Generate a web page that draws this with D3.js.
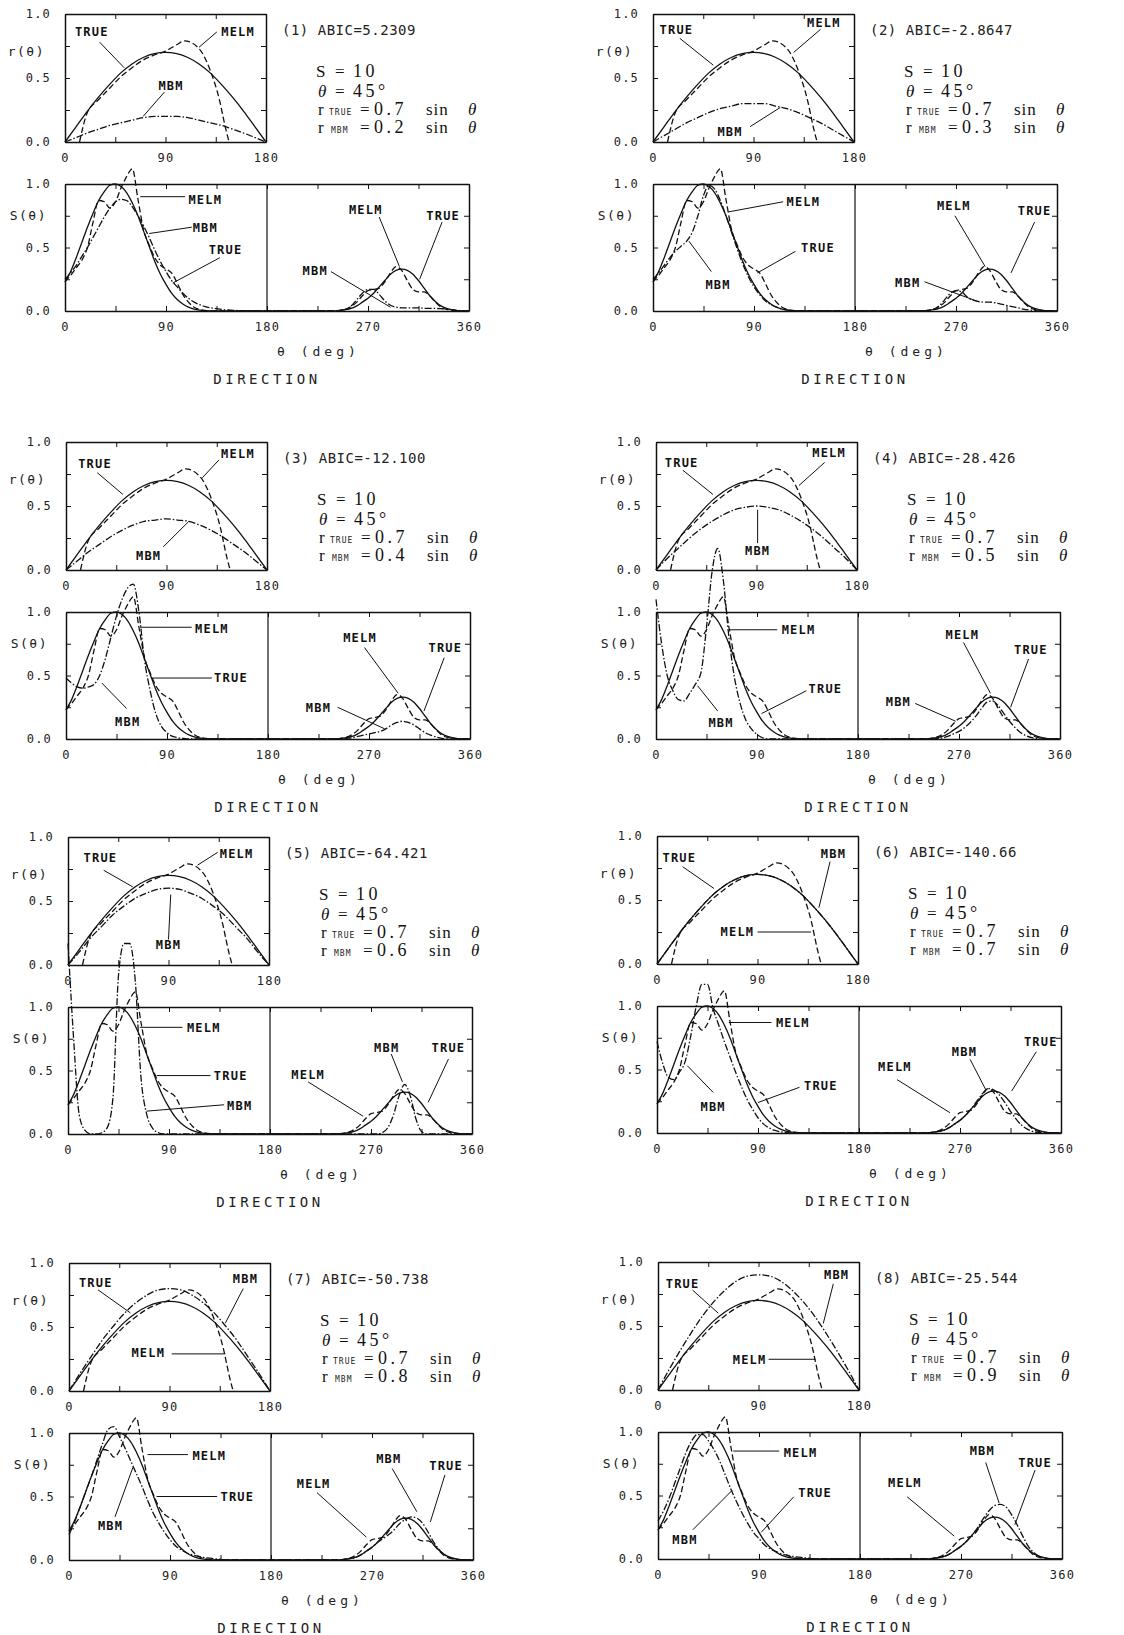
<!DOCTYPE html>
<html>
<head>
<meta charset="utf-8">
<script src="https://cdn.jsdelivr.net/npm/d3@7"></script>
<style>
  body { margin: 0; background: #fff; }
  svg { display: block; }
  .tk text { font-family: "DejaVu Sans Mono", monospace; font-size: 12px; fill: #222; letter-spacing: 1.2px; }
  .tk .domain { stroke: #111; stroke-width: 1.5; }
  .tk line { stroke: #111; stroke-width: 1; }
  .ylab { font-family: "DejaVu Sans Mono", monospace; font-size: 13px; fill: #222; letter-spacing: 1.5px; }
  .xlab { font-family: "DejaVu Sans Mono", monospace; font-size: 13px; fill: #222; letter-spacing: 4px; }
  .dir { font-family: "DejaVu Sans Mono", monospace; font-size: 14px; fill: #222; letter-spacing: 3.5px; }
  .abic { font-family: "DejaVu Sans Mono", monospace; font-size: 14px; fill: #222; letter-spacing: 0.5px; }
  .par { font-family: "Liberation Serif", serif; font-size: 17px; fill: #111; }
  .num { font-family: "Liberation Serif", serif; font-size: 18px; fill: #111; letter-spacing: 3.5px; }
  .fn { font-family: "Liberation Serif", serif; font-size: 17px; fill: #111; letter-spacing: 1px; }
  .sub { font-family: "DejaVu Sans Mono", monospace; font-size: 8px; fill: #222; letter-spacing: 1px; }
  .ann { font-family: "DejaVu Sans Mono", monospace; font-size: 12px; font-weight: bold; fill: #111; letter-spacing: 1.2px; }
</style>
</head>
<body>
<svg id="chart" width="1124" height="1635"></svg>
<script>
// Direction spectra: r(theta) and S(theta) for TRUE / MELM / MBM, eight cases

// theta grids (deg)
const thetaR = [0,10,20,30,40,50,60,70,80,90,100,110,120,130,140,150,160,170,180];
const thetaS = [0,5,10,15,20,25,30,35,40,45,50,55,60,65,70,75,80,85,90,95,100,105,110,115,120,125,130,
  135,140,145,150,155,160,165,170,175,180,185,190,195,200,205,210,215,220,225,230,235,240,
  245,250,255,260,265,270,275,280,285,290,295,300,305,310,315,320,325,330,335,340,345,350,355,360];

// r(theta)
const trueR = [0,0.12,0.24,0.35,0.45,0.54,0.61,0.66,0.69,0.70,0.69,0.66,0.61,0.54,0.45,0.35,0.24,0.12,0];
const melmThetaR = [13,20,30,40,50,60,70,80,90,100,107,120,130,138,144,147];
const melmR = [0,0.23,0.33,0.42,0.51,0.58,0.64,0.68,0.71,0.76,0.79,0.73,0.56,0.34,0.10,0];
const mbmR1 = [0,0.035,0.07,0.10,0.13,0.15,0.17,0.19,0.20,0.20,0.20,0.19,0.17,0.15,0.13,0.10,0.07,0.035,0];
const mbmR2 = [0,0.05,0.10,0.15,0.19,0.23,0.26,0.28,0.30,0.30,0.30,0.28,0.26,0.23,0.19,0.15,0.10,0.05,0];
const mbmR3 = [0,0.07,0.14,0.20,0.26,0.31,0.35,0.38,0.39,0.40,0.39,0.38,0.35,0.31,0.26,0.20,0.14,0.07,0];
const mbmR4 = [0,0.09,0.17,0.25,0.32,0.38,0.43,0.47,0.49,0.50,0.49,0.47,0.43,0.38,0.32,0.25,0.17,0.09,0];
const mbmR5 = [0,0.10,0.21,0.30,0.39,0.46,0.52,0.56,0.59,0.60,0.59,0.56,0.52,0.46,0.39,0.30,0.21,0.10,0];
const mbmR6 = [0,0.12,0.24,0.35,0.45,0.54,0.61,0.66,0.69,0.70,0.69,0.66,0.61,0.54,0.45,0.35,0.24,0.12,0];
const mbmR7 = [0,0.14,0.27,0.40,0.51,0.61,0.69,0.75,0.79,0.80,0.79,0.75,0.69,0.61,0.51,0.40,0.27,0.14,0];
const mbmR8 = [0,0.16,0.31,0.45,0.58,0.69,0.78,0.85,0.89,0.90,0.89,0.85,0.78,0.69,0.58,0.45,0.31,0.16,0];

// S(theta)
const trueS = [0.23,0.31,0.42,0.54,0.66,0.77,0.87,0.94,0.99,1.00,0.98,0.93,0.85,0.75,0.63,0.51,0.39,0.29,0.21,0.14,0.09,0.055,0.03,0.015,0.007,0.003,0,
  0,0,0,0,0,0,0,0,0,0, 0,0,0,0,0,0,0,0,0,0, 0,0,
  0.005,0.01,0.02,0.04,0.07,0.10,0.14,0.19,0.24,0.29,0.32,0.33,0.32,0.29,0.24,0.18,0.12,0.075,0.04,0.02,0.008,0.003,0,0];
const melmS = [0.23,0.28,0.34,0.40,0.50,0.70,0.87,0.86,0.81,0.86,0.97,1.06,1.12,0.88,0.64,0.52,0.42,0.36,0.33,0.30,0.22,0.13,0.07,0.03,0.012,0.004,0,
  0,0,0,0,0,0,0,0,0,0, 0,0,0,0,0,0,0,0,0,0, 0,0,
  0.005,0.015,0.035,0.07,0.12,0.16,0.17,0.18,0.23,0.30,0.35,0.32,0.24,0.17,0.15,0.15,0.12,0.07,0.03,0.012,0.004,0,0,0];
const mbmS1 = [0.25,0.30,0.36,0.43,0.50,0.58,0.66,0.74,0.81,0.86,0.88,0.87,0.82,0.75,0.67,0.58,0.48,0.39,0.31,0.24,0.19,0.14,0.10,0.07,0.05,0.035,0.025,
  0.018,0.012,0.008,0.005,0.003,0.002,0,0,0,0, 0,0,0,0,0,0,0,0,0,0, 0,0,
  0.005,0.012,0.04,0.09,0.14,0.17,0.17,0.13,0.08,0.045,0.03,0.025,0.025,0.025,0.025,0.022,0.02,0.02,0.018,0.015,0.01,0.005,0,0];
const mbmS2 = [0.25,0.30,0.36,0.42,0.47,0.51,0.55,0.62,0.75,0.91,0.99,0.96,0.87,0.75,0.62,0.49,0.37,0.27,0.19,0.13,0.08,0.05,0.03,0.015,0.007,0.003,0,
  0,0,0,0,0,0,0,0,0,0, 0,0,0,0,0,0,0,0,0,0, 0,0,
  0.005,0.012,0.04,0.09,0.14,0.16,0.15,0.11,0.085,0.075,0.07,0.07,0.065,0.055,0.045,0.035,0.025,0.015,0.008,0.003,0,0,0,0];
const mbmS3 = [0.48,0.44,0.41,0.40,0.41,0.43,0.50,0.63,0.80,0.97,1.10,1.19,1.22,1.00,0.62,0.38,0.20,0.10,0.05,0.02,0.01,0.004,0,0,0,0,0,
  0,0,0,0,0,0,0,0,0,0, 0,0,0,0,0,0,0,0,0,0, 0,0,
  0,0.005,0.01,0.02,0.03,0.04,0.05,0.06,0.08,0.11,0.13,0.14,0.13,0.11,0.08,0.05,0.03,0.015,0.005,0,0,0,0,0];
const mbmS4 = [1.10,0.75,0.50,0.38,0.31,0.30,0.36,0.43,0.52,0.88,1.32,1.50,1.25,0.80,0.48,0.28,0.15,0.08,0.035,0.01,0,0,0,0,0,0,0,
  0,0,0,0,0,0,0,0,0,0, 0,0,0,0,0,0,0,0,0,0, 0,0,
  0,0.003,0.008,0.02,0.04,0.06,0.09,0.13,0.18,0.24,0.29,0.30,0.26,0.20,0.14,0.09,0.05,0.025,0.01,0.003,0,0,0,0];
const mbmS5 = [1.50,0.75,0.15,0.03,0,0,0.01,0.05,0.28,1.25,1.50,1.50,1.20,0.45,0.16,0.05,0.012,0,0,0,0,0,0,0,0,0,0,
  0,0,0,0,0,0,0,0,0,0, 0,0,0,0,0,0,0,0,0,0, 0,0,
  0,0,0,0,0,0,0,0.01,0.05,0.15,0.30,0.39,0.30,0.12,0.02,0,0,0,0,0,0,0,0,0];
const mbmS6 = [0.72,0.55,0.44,0.42,0.48,0.56,0.76,1.00,1.17,1.17,0.98,0.85,0.72,0.60,0.48,0.37,0.27,0.19,0.12,0.07,0.04,0.02,0.01,0.004,0,0,0,
  0,0,0,0,0,0,0,0,0,0, 0,0,0,0,0,0,0,0,0,0, 0,0,
  0.005,0.01,0.02,0.04,0.07,0.10,0.14,0.19,0.25,0.31,0.35,0.34,0.30,0.24,0.17,0.11,0.06,0.03,0.012,0.004,0,0,0,0];
const mbmS7 = [0.20,0.30,0.42,0.54,0.66,0.79,0.92,1.03,1.05,0.97,0.88,0.78,0.68,0.58,0.47,0.37,0.29,0.22,0.16,0.11,0.08,0.055,0.04,0.03,0.02,0.015,0.01,
  0.005,0,0,0,0,0,0,0,0,0, 0,0,0,0,0,0,0,0,0,0, 0,0,
  0.005,0.01,0.02,0.04,0.07,0.10,0.14,0.17,0.20,0.24,0.29,0.32,0.34,0.33,0.29,0.22,0.14,0.08,0.04,0.015,0.005,0,0,0];
const mbmS8 = [0.30,0.38,0.48,0.60,0.72,0.84,0.93,0.98,0.98,0.93,0.86,0.77,0.66,0.55,0.45,0.36,0.28,0.21,0.16,0.11,0.08,0.06,0.04,0.03,0.02,0.015,0.01,
  0.005,0,0,0,0,0,0,0,0,0, 0,0,0,0,0,0,0,0,0,0, 0,0,
  0.005,0.01,0.02,0.04,0.07,0.10,0.14,0.19,0.25,0.32,0.38,0.42,0.43,0.41,0.35,0.27,0.18,0.10,0.05,0.02,0.005,0,0,0];

const abicText = ["5.2309", "-2.8647", "-12.100", "-28.426", "-64.421", "-140.66", "-50.738", "-25.544"];
const mbmCoef = ["0.2", "0.3", "0.4", "0.5", "0.6", "0.7", "0.8", "0.9"];

// labels: [plot, text, label theta, label value, line from theta, value, line to theta, value]
const annot1 = [["r","TRUE",24,0.86,31,0.78,53,0.58],["r","MELM",155,0.86,136,0.86,120,0.74],["r","MBM",95,0.44,89,0.39,70,0.2],
  ["S","MELM",125,0.88,107,0.9,67,0.9],["S","MBM",125,0.66,113,0.66,75,0.61],["S","TRUE",143,0.48,138,0.42,96,0.22],
  ["S","MELM",268,0.8,280,0.74,298,0.35],["S","TRUE",337,0.75,336,0.7,316,0.25],["S","MBM",223,0.32,237,0.31,290,0.03]];
const annot2 = [["r","TRUE",21,0.88,24,0.81,54,0.6],["r","MELM",153,0.93,150,0.88,126,0.7],["r","MBM",69,0.08,87,0.12,114,0.27],
  ["S","MELM",134,0.86,116,0.86,67,0.78],["S","TRUE",147,0.5,127,0.47,93,0.3],["S","MBM",58,0.21,52,0.31,32,0.55],
  ["S","MELM",268,0.83,269,0.75,296,0.35],["S","TRUE",340,0.79,340,0.7,319,0.3],["S","MBM",227,0.22,242,0.23,291,0.07]];
const annot3 = [["r","TRUE",26,0.83,28,0.76,51,0.59],["r","MELM",154,0.91,137,0.86,122,0.72],["r","MBM",74,0.11,87,0.18,110,0.38],
  ["S","MELM",130,0.87,112,0.88,66,0.88],["S","TRUE",147,0.48,130,0.48,77,0.48],["S","MBM",55,0.14,54,0.24,32,0.44],
  ["S","MELM",262,0.8,266,0.72,296,0.36],["S","TRUE",338,0.72,337,0.64,319,0.22],["S","MBM",225,0.25,242,0.25,284,0.08]];
const annot4 = [["r","TRUE",23,0.84,24,0.78,51,0.59],["r","MELM",155,0.92,151,0.84,128,0.66],["r","MBM",91,0.15,91,0.21,91,0.47],
  ["S","MELM",127,0.86,108,0.86,65,0.86],["S","TRUE",151,0.4,134,0.38,94,0.2],["S","MBM",58,0.13,55,0.22,37,0.42],
  ["S","MELM",273,0.82,274,0.76,298,0.36],["S","TRUE",334,0.7,332,0.63,316,0.25],["S","MBM",216,0.29,231,0.28,267,0.14]];
const annot5 = [["r","TRUE",29,0.84,32,0.74,58,0.61],["r","MELM",151,0.87,134,0.88,116,0.78],["r","MBM",90,0.16,90,0.2,92,0.55],
  ["S","MELM",121,0.84,102,0.84,64,0.84],["S","TRUE",145,0.46,127,0.46,79,0.46],["S","MBM",153,0.22,139,0.23,70,0.18],
  ["S","MELM",214,0.47,214,0.41,263,0.14],["S","MBM",284,0.68,288,0.63,298,0.41],["S","TRUE",339,0.68,339,0.59,321,0.25]];
const annot6 = [["r","TRUE",20,0.83,23,0.76,51,0.59],["r","MBM",158,0.86,155,0.8,145,0.44],["r","MELM",72,0.25,90,0.25,138,0.25],
  ["S","MELM",121,0.87,102,0.87,64,0.87],["S","TRUE",146,0.37,127,0.36,90,0.24],["S","MBM",50,0.21,50,0.32,27,0.53],
  ["S","MELM",212,0.52,214,0.42,261,0.16],["S","MBM",274,0.64,279,0.58,293,0.34],["S","TRUE",342,0.72,338,0.64,316,0.33]];
const annot7 = [["r","TRUE",24,0.85,26,0.79,55,0.61],["r","MBM",158,0.88,156,0.8,140,0.53],["r","MELM",71,0.3,92,0.29,140,0.29],
  ["S","MELM",125,0.82,106,0.83,70,0.83],["S","TRUE",150,0.5,132,0.5,78,0.5],["S","MBM",37,0.27,41,0.34,57,0.73],
  ["S","MELM",218,0.6,221,0.53,265,0.18],["S","MBM",285,0.8,288,0.72,310,0.38],["S","TRUE",336,0.74,335,0.67,322,0.3]];
const annot8 = [["r","TRUE",22,0.83,31,0.78,54,0.6],["r","MBM",160,0.9,157,0.83,148,0.52],["r","MELM",82,0.24,99,0.24,141,0.24],
  ["S","MELM",127,0.84,108,0.85,67,0.85],["S","TRUE",140,0.52,121,0.49,92,0.21],["S","MBM",24,0.15,31,0.23,66,0.54],
  ["S","MELM",220,0.6,222,0.49,264,0.18],["S","MBM",289,0.85,292,0.76,304,0.44],["S","TRUE",336,0.76,336,0.7,318,0.27]];

const mbmRList = [mbmR1, mbmR2, mbmR3, mbmR4, mbmR5, mbmR6, mbmR7, mbmR8];
const mbmSList = [mbmS1, mbmS2, mbmS3, mbmS4, mbmS5, mbmS6, mbmS7, mbmS8];
const annotList = [annot1, annot2, annot3, annot4, annot5, annot6, annot7, annot8];

// layout (top-left of each r(theta) box)
const panelOrigin = [[65, 14], [653, 14], [66, 442], [656, 442], [68, 837], [657, 836], [69, 1263], [658, 1262]];
const wR = 201, hR = 128, wS = 404, hS = 127, gapS = 170;

const dashes = { TRUE: null, MELM: "6,3", MBM: "7,2,1.5,2" };

const svg = d3.select("#chart");

function frame(g, x, y, xTicks) {
    const [x0, x1] = x.range();
    const [yb, yt] = y.range();
    const yTicks = [0, 0.25, 0.5, 0.75, 1];

    g.append("g").attr("class", "tk").attr("transform", `translate(0,${yb})`)
        .call(d3.axisBottom(x).tickValues(xTicks).tickSizeInner(-5).tickSizeOuter(0).tickPadding(11)
            .tickFormat(d => d % 90 === 0 ? d : ""));
    g.append("g").attr("class", "tk").attr("transform", `translate(0,${yt})`)
        .call(d3.axisTop(x).tickValues(xTicks).tickSizeInner(-5).tickSizeOuter(0).tickFormat(""));
    g.append("g").attr("class", "tk").attr("transform", `translate(${x0},0)`)
        .call(d3.axisLeft(y).tickValues(yTicks).tickSizeInner(-5).tickSizeOuter(0).tickPadding(14)
            .tickFormat(d => (d === 0.25 || d === 0.75) ? "" : d3.format(".1f")(d)));
    g.append("g").attr("class", "tk").attr("transform", `translate(${x1},0)`)
        .call(d3.axisRight(y).tickValues(yTicks).tickSizeInner(-5).tickSizeOuter(0).tickFormat(""));
    g.selectAll(".tk").attr("font-family", null).attr("font-size", null);
}

function curve(g, x, y, th, vals, kind) {
    const pts = th.map((t, i) => [t, vals[i]]);
    g.append("path")
        .datum(pts)
        .attr("fill", "none")
        .attr("stroke", "#111")
        .attr("stroke-width", 1.3)
        .attr("stroke-dasharray", dashes[kind])
        .attr("d", d3.line()
            .defined(d => d[1] != null)
            .x(d => x(d[0]))
            .y(d => y(d[1]))
            .curve(d3.curveMonotoneX));
}

function drawPanel(i) {
    const [x0, y0] = panelOrigin[i];
    const g = svg.append("g");

    const xr = d3.scaleLinear().domain([0, 180]).range([x0, x0 + wR]);
    const yr = d3.scaleLinear().domain([0, 1]).range([y0 + hR, y0]);
    const sTop = y0 + gapS;
    const xs = d3.scaleLinear().domain([0, 360]).range([x0, x0 + wS]);
    const ys = d3.scaleLinear().domain([0, 1]).range([sTop + hS, sTop]);

    // r(theta) plot
    frame(g, xr, yr, [0, 45, 90, 135, 180]);
    curve(g, xr, yr, thetaR, trueR, "TRUE");
    curve(g, xr, yr, melmThetaR, melmR, "MELM");
    curve(g, xr, yr, thetaR, mbmRList[i], "MBM");

    // S(theta) plot
    frame(g, xs, ys, [0, 45, 90, 135, 180, 225, 270, 315, 360]);
    g.append("line")
        .attr("x1", xs(180)).attr("x2", xs(180))
        .attr("y1", ys(0)).attr("y2", ys(1))
        .attr("stroke", "#111").attr("stroke-width", 1.2);
    curve(g, xs, ys, thetaS, trueS, "TRUE");
    curve(g, xs, ys, thetaS, melmS, "MELM");
    curve(g, xs, ys, thetaS, mbmSList[i], "MBM");

    // axis titles
    g.append("text").attr("class", "ylab").attr("text-anchor", "end")
        .attr("x", x0 - 20).attr("y", yr(0.71)).attr("dy", "0.35em").text("r(θ)");
    g.append("text").attr("class", "ylab").attr("text-anchor", "end")
        .attr("x", x0 - 18).attr("y", ys(0.75)).attr("dy", "0.35em").text("S(θ)");
    const cx = x0 + wS / 2;
    g.append("text").attr("class", "xlab").attr("x", cx + 10).attr("y", ys(0) + 45).text("θ (deg)");
    g.append("text").attr("class", "dir").attr("text-anchor", "middle")
        .attr("x", cx).attr("y", ys(0) + 73).text("DIRECTION");

    // case text
    g.append("text").attr("class", "abic").attr("x", x0 + 217).attr("y", y0 + 21)
        .text(`(${i + 1}) ABIC=${abicText[i]}`);
    const px = x0 + 253;
    const row = (dy, parts) => parts.forEach(([dx, txt, cls, italic]) => {
        g.append("text").attr("class", cls || "par")
            .attr("x", px + dx).attr("y", y0 + dy)
            .attr("font-style", italic ? "italic" : null)
            .text(txt);
    });
    row(63, [[-2, "S"], [17, "="], [35, "10", "num"]]);
    row(83, [[0, "θ", null, true], [17, "="], [35, "45°", "num"]]);
    row(101, [[0, "r"], [11, "TRUE", "sub"], [42, "="], [56, "0.7", "num"], [108, "sin", "fn"], [150, "θ", null, true]]);
    row(119, [[0, "r"], [13, "MBM", "sub"], [42, "="], [56, mbmCoef[i], "num"], [108, "sin", "fn"], [150, "θ", null, true]]);

    // curve labels with leader lines
    annotList[i].forEach(([plot, txt, lt, lv, t1, v1, t2, v2]) => {
        const x = plot === "r" ? xr : xs;
        const y = plot === "r" ? yr : ys;
        g.append("line")
            .attr("x1", x(t1)).attr("y1", y(v1))
            .attr("x2", x(t2)).attr("y2", y(v2))
            .attr("stroke", "#111").attr("stroke-width", 1);
        g.append("text").attr("class", "ann").attr("text-anchor", "middle")
            .attr("x", x(lt)).attr("y", y(lv)).attr("dy", "0.36em")
            .text(txt);
    });
}

for (let i = 0; i < 8; i++) drawPanel(i);
</script>
</body>
</html>
